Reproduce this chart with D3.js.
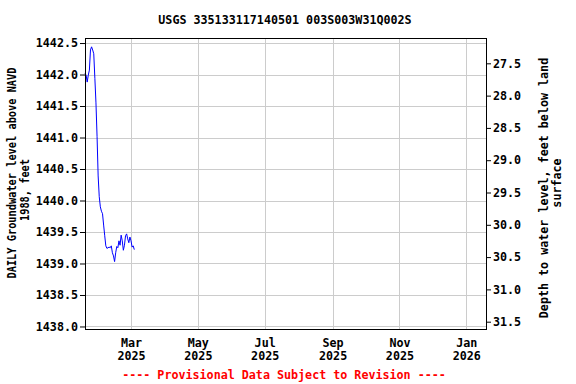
<!DOCTYPE html>
<html>
<head>
<meta charset="utf-8">
<script src="https://cdn.jsdelivr.net/npm/d3@7"></script>
<style>
  body { margin: 0; background: #fff; }
  text { font-family: "DejaVu Sans Mono", "Liberation Mono", monospace; font-weight: bold; }
</style>
</head>
<body>
<div id="chart"></div>
<script>
// daily values, groundwater level above NAVD 1988 (feet)
var dates = ["2025-01-18","2025-01-19","2025-01-20","2025-01-21","2025-01-22","2025-01-23",
    "2025-01-24","2025-01-25","2025-01-26","2025-01-27","2025-01-28","2025-01-29","2025-01-30",
    "2025-01-31","2025-02-01","2025-02-02","2025-02-03","2025-02-04","2025-02-05","2025-02-06",
    "2025-02-07","2025-02-08","2025-02-09","2025-02-10","2025-02-11","2025-02-12","2025-02-13",
    "2025-02-14","2025-02-15","2025-02-16","2025-02-17","2025-02-18","2025-02-19","2025-02-20",
    "2025-02-21","2025-02-22","2025-02-23","2025-02-24","2025-02-25","2025-02-26","2025-02-27",
    "2025-02-28","2025-03-01","2025-03-02","2025-03-03","2025-03-04"];
var levels = [1442.02, 1441.99, 1441.88, 1441.99, 1442.07, 1442.39,
    1442.44, 1442.39, 1442.33, 1441.94, 1441.55, 1441.02, 1440.39,
    1440.06, 1439.90, 1439.83, 1439.79, 1439.61, 1439.44, 1439.28,
    1439.24, 1439.25, 1439.26, 1439.25, 1439.28, 1439.17, 1439.12,
    1439.03, 1439.17, 1439.27, 1439.25, 1439.36, 1439.29, 1439.45,
    1439.36, 1439.21, 1439.29, 1439.44, 1439.47, 1439.39, 1439.33,
    1439.42, 1439.36, 1439.26, 1439.28, 1439.22];

var leftTicks = [1442.5, 1442.0, 1441.5, 1441.0, 1440.5, 1440.0, 1439.5, 1439.0, 1438.5, 1438.0];
var rightTicks = [27.5, 28.0, 28.5, 29.0, 29.5, 30.0, 30.5, 31.0, 31.5];
var monthTicks = ["2025-03-01","2025-05-01","2025-07-01","2025-09-01","2025-11-01","2026-01-01"];

var W = 576, H = 384;
var plot = { left: 85, top: 38, right: 486, bottom: 329 };
var parse = d3.timeParse("%Y-%m-%d");

var svg = d3.select("#chart").append("svg")
    .attr("width", W).attr("height", H);

var x = d3.scaleTime()
    .domain([parse("2025-01-18"), parse("2026-01-19")])
    .range([plot.left, plot.right]);
var y = d3.scaleLinear()
    .domain([1442.58, 1437.96])
    .range([plot.top, plot.bottom]);
var y2 = d3.scaleLinear()
    .domain([27.108, 31.613])
    .range([plot.top, plot.bottom]);

// grid
svg.append("g").selectAll("line.h")
    .data(leftTicks).enter().append("line")
    .attr("x1", plot.left).attr("x2", plot.right)
    .attr("y1", function(d) { return Math.round(y(d)) + 0.5; })
    .attr("y2", function(d) { return Math.round(y(d)) + 0.5; })
    .style("stroke", "#cccccc");
svg.append("g").selectAll("line.v")
    .data(monthTicks).enter().append("line")
    .attr("y1", plot.top).attr("y2", plot.bottom)
    .attr("x1", function(d) { return Math.round(x(parse(d))) + 0.5; })
    .attr("x2", function(d) { return Math.round(x(parse(d))) + 0.5; })
    .style("stroke", "#cccccc");

// axes
var yAxis = d3.axisLeft(y).tickValues(leftTicks).tickSize(5).tickSizeOuter(0)
    .tickFormat(d3.format(".1f"));
var gy = svg.append("g").attr("transform", "translate(" + plot.left + ",0)").call(yAxis);
var y2Axis = d3.axisRight(y2).tickValues(rightTicks).tickSize(5).tickSizeOuter(0)
    .tickFormat(d3.format(".1f"));
var gy2 = svg.append("g").attr("transform", "translate(" + plot.right + ",0)").call(y2Axis);
[gy, gy2].forEach(function(g) {
    g.select(".domain").remove();
    g.selectAll("text").style("font-size", "11.7px").attr("fill", "#000")
        .style("font-family", "'DejaVu Sans Mono', monospace").style("font-weight", "bold");
    g.selectAll("line").attr("stroke", "#000");
});
gy.selectAll("text").attr("x", -7);
gy2.selectAll("text").attr("x", 7);

var xAxis = d3.axisBottom(x).tickValues(monthTicks.map(parse)).tickSize(0)
    .tickFormat(function() { return ""; });
var gx = svg.append("g").attr("transform", "translate(0," + plot.bottom + ")").call(xAxis);
gx.select(".domain").remove();
gx.selectAll(".tick text").each(function(d) {
    var t = d3.select(this).text(null).attr("y", 0).attr("dy", null);
    t.append("tspan").attr("x", 0).attr("y", 18).text(d3.timeFormat("%b")(d));
    t.append("tspan").attr("x", 0).attr("y", 31).text(d3.timeFormat("%Y")(d));
});
gx.selectAll("text").style("font-size", "11.7px").attr("fill", "#000")
    .style("font-family", "'DejaVu Sans Mono', monospace").style("font-weight", "bold");

// data line
var line = d3.line()
    .x(function(d, i) { return x(parse(dates[i])); })
    .y(function(d) { return y(d); });
svg.append("path")
    .datum(levels)
    .attr("d", line)
    .style("fill", "none")
    .style("stroke", "#0000ff")
    .style("stroke-width", 1);

// frame
svg.append("rect")
    .attr("x", plot.left + 0.5).attr("y", plot.top + 0.5)
    .attr("width", plot.right - plot.left).attr("height", plot.bottom - plot.top)
    .style("fill", "none").style("stroke", "#000").style("stroke-width", 1);

// title and labels
svg.append("text")
    .attr("x", 285).attr("y", 20).attr("dy", "0.35em")
    .attr("text-anchor", "middle").style("font-size", "11.7px")
    .text("USGS 335133117140501 003S003W31Q002S");

svg.append("text")
    .attr("transform", "translate(12,173) rotate(-90)").attr("dy", "0.35em")
    .attr("text-anchor", "middle").style("font-size", "11.7px")
    .attr("textLength", 211).attr("lengthAdjust", "spacingAndGlyphs")
    .text("DAILY Groundwater level above NAVD");
svg.append("text")
    .attr("transform", "translate(25,190) rotate(-90)").attr("dy", "0.35em")
    .attr("text-anchor", "middle").style("font-size", "11.7px")
    .attr("textLength", 62).attr("lengthAdjust", "spacingAndGlyphs")
    .text("1988, feet");

svg.append("text")
    .attr("transform", "translate(544,188) rotate(-90)").attr("dy", "0.35em")
    .attr("text-anchor", "middle").style("font-size", "11.7px")
    .text("Depth to water level, feet below land");
svg.append("text")
    .attr("transform", "translate(557,183) rotate(-90)").attr("dy", "0.35em")
    .attr("text-anchor", "middle").style("font-size", "11.7px")
    .text("surface");

svg.append("text")
    .attr("x", 284).attr("y", 375).attr("dy", "0.35em")
    .attr("text-anchor", "middle").style("font-size", "11.7px")
    .style("fill", "#ff0000")
    .text("---- Provisional Data Subject to Revision ----");
</script>
</body>
</html>
